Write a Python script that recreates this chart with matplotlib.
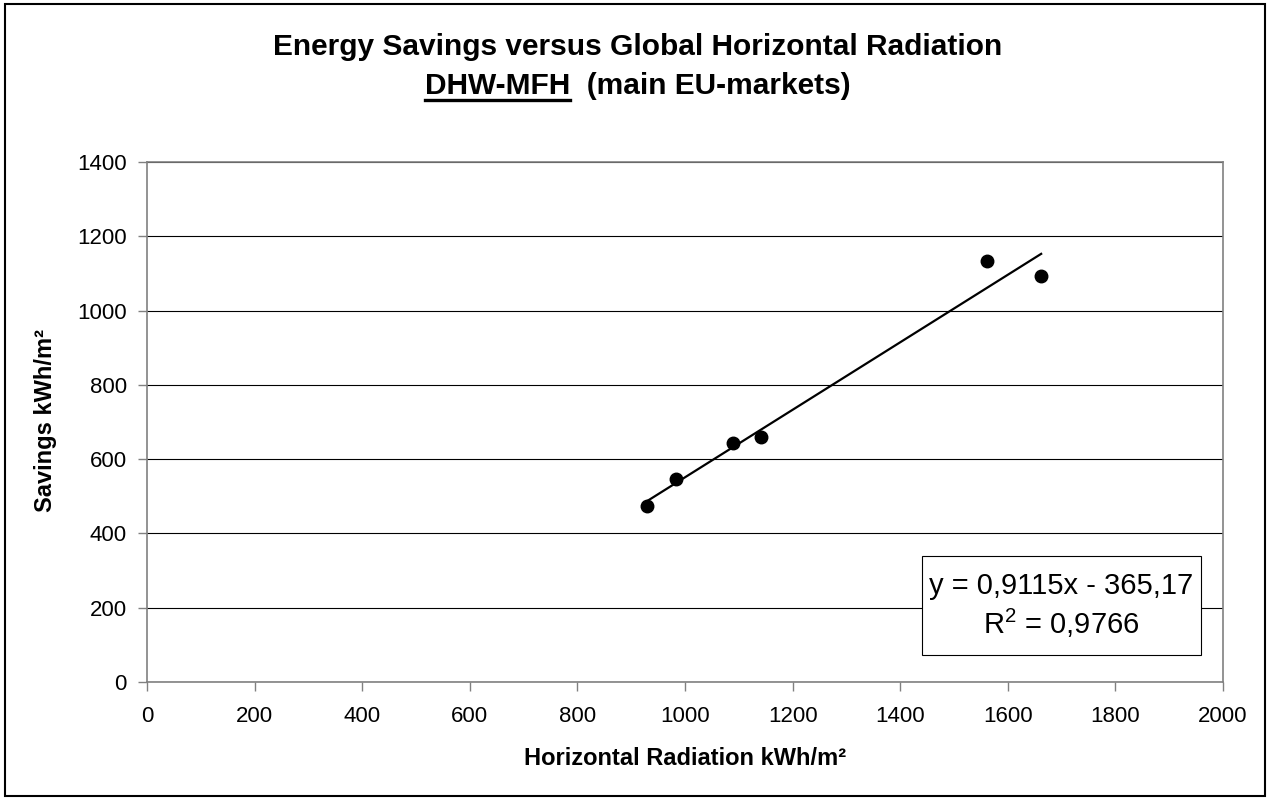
import matplotlib.pyplot as plt
import matplotlib.patches as patches
import numpy as np

plt.rcParams['font.family'] = ['Liberation Sans', 'DejaVu Sans']
plt.rcParams['mathtext.fontset'] = 'custom'
plt.rcParams['mathtext.rm'] = 'Liberation Sans'

# data
radiation = [930, 983, 1089, 1141, 1561, 1662]
savings = [473, 546, 643, 660, 1133, 1093]
x_ticks = [0, 200, 400, 600, 800, 1000, 1200, 1400, 1600, 1800, 2000]
y_ticks = [0, 200, 400, 600, 800, 1000, 1200, 1400]
eq_text = 'y = 0,9115x - 365,17\nR$^2$ = 0,9766'

W, H = 1270, 800
fig = plt.figure(figsize=(12.7, 8), dpi=100)
ax = fig.add_axes([147 / W, 118 / H, 1076 / W, 520 / H])

# linear trend line over the data range
slope, intercept = np.polyfit(radiation, savings, 1)
xs = np.array([min(radiation), max(radiation)])
ax.plot(xs, slope * xs + intercept, color='black', lw=1.6, zorder=3)
ax.plot(radiation, savings, 'o', color='black', ms=9, zorder=4)

ax.set_xlim(0, 2000)
ax.set_ylim(0, 1400)
ax.set_xticks(x_ticks)
ax.set_yticks(y_ticks)
ax.tick_params(direction='out', length=6.5, width=1, color='#808080',
               labelsize=16)
ax.tick_params(axis='y', pad=8)
ax.tick_params(axis='x', pad=11)
ax.yaxis.grid(True, color='black', lw=0.8)
ax.set_axisbelow(True)
for s in ax.spines.values():
    s.set_color('#808080')
    s.set_linewidth(1.2)

# equation box
ax.add_patch(patches.Rectangle((0.720, 0.052), 0.260, 0.190,
                               transform=ax.transAxes, fc='white',
                               ec='black', lw=0.8, zorder=5))
ax.text(0.850, 0.147, eq_text, transform=ax.transAxes, ha='center',
        va='center', fontsize=21, multialignment='center',
        linespacing=1.25, zorder=6)

fig.text(46 / W, 1 - 420 / H, 'Savings kWh/m²', rotation=90,
         ha='center', va='center', fontsize=17, fontweight='bold')
fig.text(685 / W, 1 - 765 / H, 'Horizontal Radiation kWh/m²',
         ha='center', va='baseline', fontsize=17, fontweight='bold')

# title, with underlined first part of the second line
fig.text(638 / W, 1 - 55 / H,
         'Energy Savings versus Global Horizontal Radiation',
         ha='center', va='baseline', fontsize=21.5, fontweight='bold')
line2 = fig.text(638 / W, 1 - 94 / H, 'DHW-MFH  (main EU-markets)',
                 ha='center', va='baseline', fontsize=21.5, fontweight='bold')
renderer = fig.canvas.get_renderer()
bb = line2.get_window_extent(renderer)
part = fig.text(bb.x0 / W, 1 - 94 / H, 'DHW-MFH', ha='left',
                va='baseline', fontsize=21.5, fontweight='bold', alpha=0)
pb = part.get_window_extent(renderer)
fig.add_artist(plt.Line2D([pb.x0 / W, pb.x1 / W],
                          [1 - 100 / H, 1 - 100 / H],
                          color='black', lw=2.4))

# outer chart border
fig.add_artist(patches.Rectangle((5 / W, 4 / H), 1260 / W, 792 / H,
                                 transform=fig.transFigure, fill=False,
                                 ec='black', lw=1.5))

fig.savefig('out.png', dpi=100)
